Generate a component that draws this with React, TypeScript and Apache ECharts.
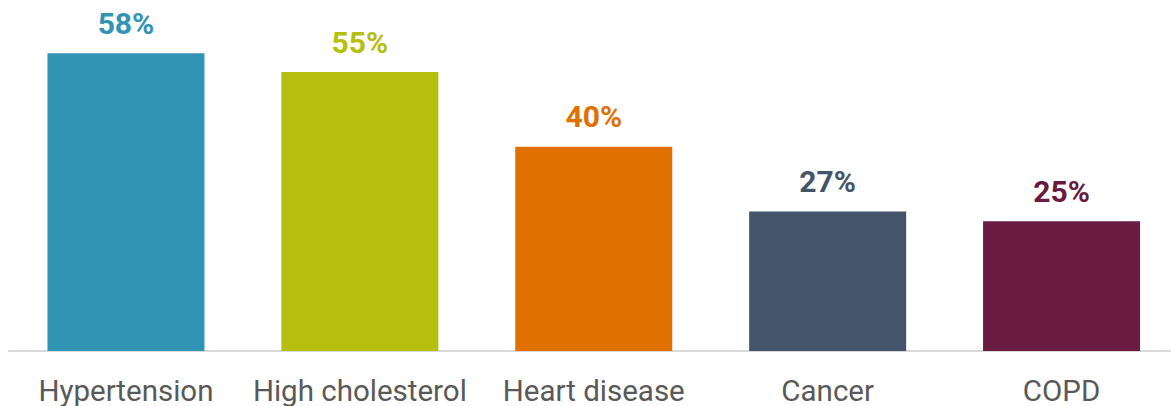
import React, { useEffect, useRef } from "react";
import * as echarts from "echarts";

const categories = ["Hypertension", "High cholesterol", "Heart disease", "Cancer", "COPD"];
const values = [58.3, 54.6, 40, 27.3, 25.4];
const labels = ["58%", "55%", "40%", "27%", "25%"];
const colors = ["#3194B5", "#B6BF0E", "#E07000", "#44546A", "#6A1B42"];

export default function App() {
  const ref = useRef<HTMLDivElement>(null);
  useEffect(() => {
    const chart = echarts.init(ref.current!, null, { renderer: "svg" });
    chart.setOption({
      animation: false,
      grid: { left: 9, right: 1.5, top: 44.5, bottom: 54, containLabel: false },
      xAxis: {
        type: "category",
        data: categories,
        axisLine: { lineStyle: { color: "#D9D9D9", width: 2 } },
        axisTick: { show: false },
        axisLabel: {
          color: "#595959",
          fontSize: 29.5,
          fontFamily: "Roboto, sans-serif",
          margin: 25,
          interval: 0,
        },
      },
      yAxis: {
        type: "value",
        min: 0,
        max: 60,
        show: false,
        splitLine: { show: false },
      },
      series: [
        {
          type: "bar",
          barWidth: 157,
          data: values.map((v, i) => ({ value: v, itemStyle: { color: colors[i] } })),
          label: {
            show: true,
            position: "top",
            distance: 15,
            fontSize: 30,
            fontWeight: "bold",
            fontFamily: "Roboto, sans-serif",
            formatter: (p: any) => labels[p.dataIndex],
            color: "inherit",
          },
        },
      ],
    });
    return () => chart.dispose();
  }, []);
  return (
    <div
      ref={ref}
      style={{ position: "fixed", left: 0, top: 0, width: 1180, height: 406, background: "#fff" }}
    />
  );
}
